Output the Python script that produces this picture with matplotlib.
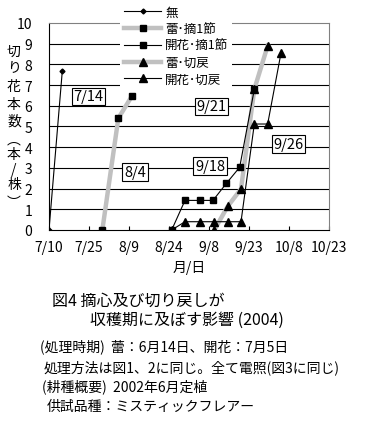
import matplotlib
matplotlib.use('Agg')
import matplotlib.pyplot as plt

plt.rcParams['font.family'] = ['Noto Sans CJK JP', 'DejaVu Sans']

# x は 7/10 からの日数
tick_days = [0, 15, 30, 45, 60, 75, 90, 105]
tick_labels = ['7/10', '7/25', '8/9', '8/24', '9/8', '9/23', '10/8', '10/23']

mu_x = [0, 5]
mu_y = [0, 7.7]

tsubomi_teki_x = [20, 26, 31]
tsubomi_teki_y = [0, 5.4, 6.45]

kaika_teki_x = [46, 51, 56.5, 61.5, 66.5, 71.5, 77]
kaika_teki_y = [0, 1.43, 1.43, 1.43, 2.25, 3.03, 6.8]

tsubomi_kiri_x = [62, 67, 72, 77, 82]
tsubomi_kiri_y = [0, 1.14, 1.98, 6.8, 8.9]

kaika_kiri_x = [46, 51, 56.5, 62, 67, 72, 77, 82, 87]
kaika_kiri_y = [0, 0.4, 0.4, 0.4, 0.4, 0.4, 5.12, 5.12, 8.55]

notes = ['7/14', '8/4', '9/21', '9/18', '9/26']
note_pos = [(14.8, 6.45), (32.2, 2.8), (60.9, 5.97), (60.4, 3.09), (89.8, 4.15)]

fig = plt.figure(figsize=(3.87, 4.35), dpi=100)
ax = fig.add_axes([49/387, 1 - 231/435, 280/387, 207/435])

for v in range(1, 10):
    ax.axhline(v, color='black', lw=0.8, zorder=1)

gray = '#c0c0c0'
ax.plot(mu_x, mu_y, color='black', lw=0.8, marker='D', ms=2.5, label='無', zorder=4)
ax.plot(tsubomi_teki_x, tsubomi_teki_y, color=gray, lw=3.2, marker='s', ms=5,
        mfc='black', mec='black', label='蕾･摘1節', zorder=3)
ax.plot(kaika_teki_x, kaika_teki_y, color='black', lw=0.8, marker='s', ms=4.5,
        label='開花･摘1節', zorder=4)
ax.plot(tsubomi_kiri_x, tsubomi_kiri_y, color=gray, lw=3.2, marker='^', ms=5.5,
        mfc='black', mec='black', label='蕾･切戻', zorder=3)
ax.plot(kaika_kiri_x, kaika_kiri_y, color='black', lw=0.8, marker='^', ms=5.5,
        label='開花･切戻', zorder=4)

for t, (x, y) in zip(notes, note_pos):
    ax.text(x, y, t, ha='center', va='center', fontsize=10.5, zorder=6,
            bbox=dict(boxstyle='square,pad=0.12', fc='white', ec='black', lw=0.8))

ax.set_xlim(0, 105)
ax.set_ylim(0, 10)
ax.set_xticks(tick_days)
ax.set_xticklabels(tick_labels, fontsize=10)
ax.set_yticks(range(0, 11))
ax.tick_params(axis='x', direction='in', length=3, pad=7, width=0.8)
ax.tick_params(axis='y', length=0, pad=12, labelsize=10)
for s in ['left', 'bottom']:
    ax.spines[s].set_color('black')
    ax.spines[s].set_linewidth(0.8)
for s in ['top', 'right']:
    ax.spines[s].set_color('#808080')
    ax.spines[s].set_linewidth(0.8)

leg = ax.legend(loc='upper left', bbox_to_anchor=(120/387, 1 - 3/435),
                bbox_transform=fig.transFigure, fontsize=9, frameon=True,
                handlelength=3.0, handletextpad=0.3, labelspacing=0.3,
                borderpad=0.3, borderaxespad=0)
leg.get_frame().set_edgecolor('none')
leg.get_frame().set_facecolor('white')
leg.get_frame().set_alpha(1)
leg.set_zorder(5)

fig.text(189/387, 1 - 268/435, '月/日', ha='center', va='center', fontsize=10)

ylab = ['切', 'り', '花', '本', '数', '︵', '本', '/', '株', '︶']
ylab_y = [52, 67, 87, 105, 122, 140, 155, 170, 185, 203]
for c, yy in zip(ylab, ylab_y):
    fig.text(14/387, 1 - yy/435, c, ha='center', va='center', fontsize=10)

fig.text(52/387, 1 - 301/435, '図4 摘心及び切り戻しが', ha='left', va='center', fontsize=11.5)
fig.text(90/387, 1 - 320/435, '収穫期に及ぼす影響 (2004)', ha='left', va='center', fontsize=11.5)
fig.text(40/387, 1 - 347/435, '(処理時期)  蕾：6月14日、開花：7月5日', ha='left', va='center', fontsize=10)
fig.text(44/387, 1 - 368/435, '処理方法は図1、2に同じ。全て電照(図3に同じ)', ha='left', va='center', fontsize=10)
fig.text(42/387, 1 - 387/435, '(耕種概要)  2002年6月定植', ha='left', va='center', fontsize=10)
fig.text(47/387, 1 - 407/435, '供試品種：ミスティックフレアー', ha='left', va='center', fontsize=10)

fig.savefig('out.png', dpi=100)
